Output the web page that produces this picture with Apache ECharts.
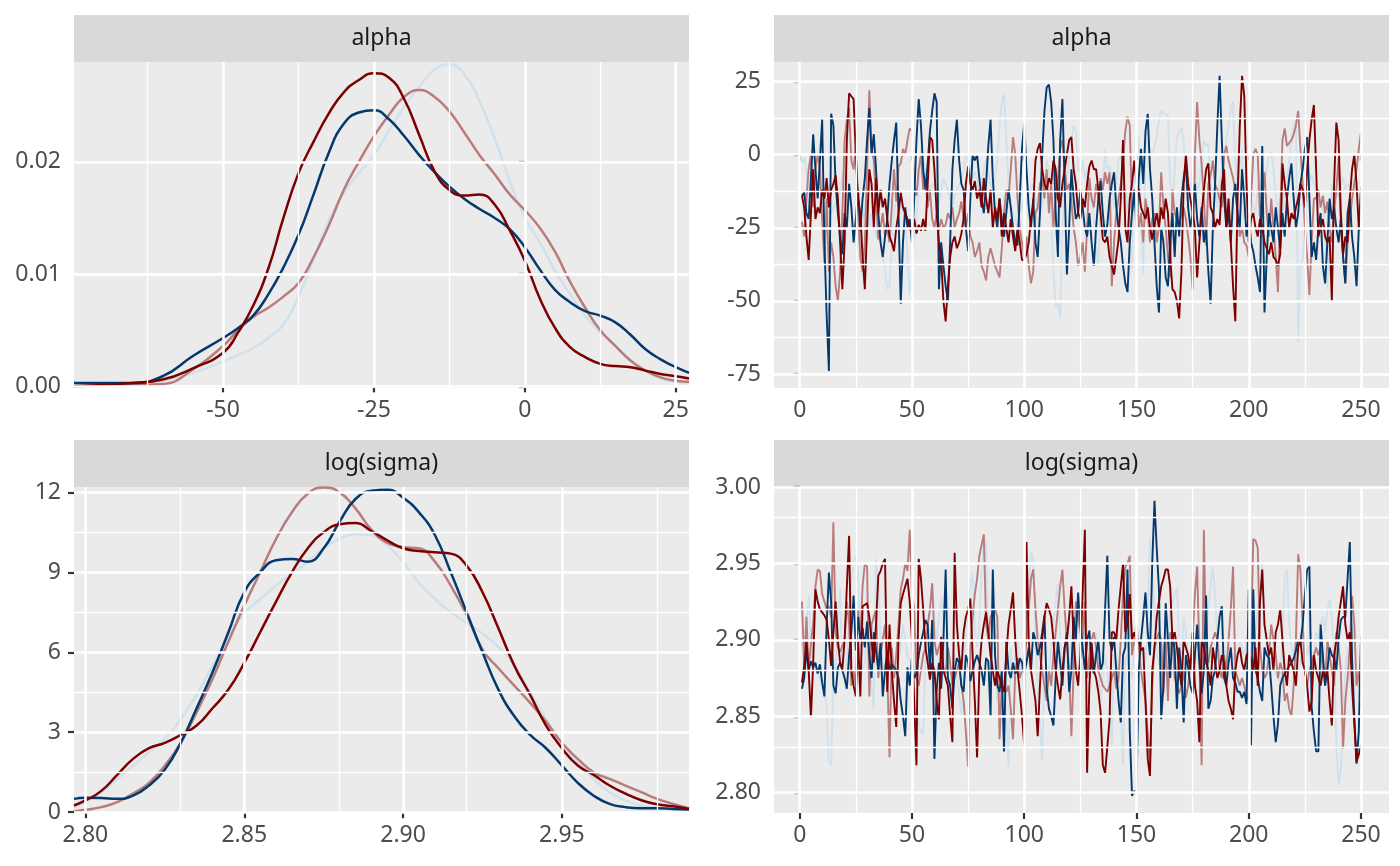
<!DOCTYPE html>
<html><head><meta charset="utf-8">
<script src="https://cdn.jsdelivr.net/npm/echarts@6/dist/echarts.min.js"></script>
<style>html,body{margin:0;padding:0;background:#fff}#c{width:1400px;height:866px}</style>
</head><body><div id="c"></div>
<script>
// ---------- data ----------
const chainColors = ['#D1E1EC', '#B97C7C', '#03396C', '#7C0000'];
const panelTitles = ['alpha', 'alpha', 'log(sigma)', 'log(sigma)'];

// density of alpha, read at these x positions
const alphaGrid = [-74.7,-65,-60,-55,-50,-47.5,-45,-42.5,-40,-37.5,-35,-32.5,-30,-27.5,-25,-22.5,-20,-17.5,-15,-12.5,-10,-7.5,-5,-2.5,0,2.5,5,7.5,10,12.5,15,17.5,20,22.5,25,27.2];
const alphaDens1 = [0.0001,0.0002,0.0005,0.0012,0.0022,0.0028,0.0034,0.0043,0.0055,0.0080,0.0113,0.0148,0.0172,0.0190,0.0206,0.0228,0.0249,0.0267,0.0282,0.0287,0.0278,0.0254,0.0221,0.0183,0.0150,0.0128,0.0103,0.0082,0.0063,0.0048,0.0036,0.0023,0.0013,0.0007,0.0004,0.0003];
const alphaDens2 = [0.0000,0.0001,0.0002,0.0015,0.0036,0.0050,0.0062,0.0070,0.0080,0.0092,0.0115,0.0143,0.0175,0.0200,0.0223,0.0242,0.0258,0.0264,0.0258,0.0245,0.0226,0.0206,0.0189,0.0171,0.0157,0.0141,0.0120,0.0093,0.0070,0.0050,0.0036,0.0023,0.0014,0.0008,0.0005,0.0004];
const alphaDens3 = [0.0003,0.0003,0.0009,0.0027,0.0043,0.0052,0.0063,0.0082,0.0106,0.0135,0.0171,0.0208,0.0234,0.0244,0.0246,0.0238,0.0223,0.0206,0.0191,0.0178,0.0167,0.0158,0.0150,0.0140,0.0124,0.0104,0.0086,0.0075,0.0067,0.0063,0.0057,0.0046,0.0033,0.0024,0.0017,0.0012];
const alphaDens4 = [0.0000,0.0003,0.0006,0.0016,0.0030,0.0048,0.0072,0.0105,0.0150,0.0190,0.0218,0.0243,0.0262,0.0273,0.0279,0.0275,0.0256,0.0224,0.0192,0.0175,0.0170,0.0171,0.0162,0.0139,0.0112,0.0078,0.0052,0.0035,0.0026,0.0020,0.0018,0.0017,0.0014,0.0011,0.0009,0.0007];

// density of log(sigma)
const sigmaGrid = [2.7964,2.800,2.805,2.810,2.815,2.820,2.825,2.830,2.835,2.840,2.845,2.850,2.855,2.860,2.865,2.870,2.875,2.880,2.885,2.890,2.895,2.900,2.905,2.910,2.915,2.920,2.925,2.930,2.935,2.940,2.945,2.950,2.955,2.960,2.965,2.970,2.975,2.980,2.985,2.990];
const sigmaDens1 = [0.19,0.38,0.75,1.25,1.75,2.25,2.75,3.5,4.4,5.5,6.6,7.45,8.0,8.5,8.95,9.4,9.9,10.25,10.44,10.4,10.0,9.4,8.6,8.0,7.5,7.1,6.7,6.2,5.5,4.5,3.5,2.6,1.9,1.25,0.75,0.44,0.25,0.16,0.1,0.06];
const sigmaDens2 = [0.03,0.09,0.19,0.38,0.7,1.1,1.75,2.6,3.75,5.0,6.4,7.75,9.0,10.25,11.25,11.95,12.18,12.0,11.4,10.6,10.1,9.95,9.9,9.4,8.5,7.4,6.1,5.4,4.75,4.1,3.4,2.6,2.0,1.5,1.25,1.0,0.75,0.5,0.31,0.15];
const sigmaDens3 = [0.5,0.54,0.53,0.5,0.62,1.0,1.6,2.6,3.9,5.25,6.75,8.25,9.0,9.45,9.5,9.4,9.9,10.9,11.75,12.06,12.1,11.8,11.25,10.4,9.0,7.5,6.0,4.6,3.6,2.9,2.4,1.75,1.1,0.62,0.31,0.19,0.15,0.15,0.12,0.1];
const sigmaDens4 = [0.25,0.44,0.8,1.4,2.0,2.4,2.6,2.9,3.25,3.9,4.6,5.6,6.75,7.9,9.0,9.9,10.5,10.8,10.85,10.55,10.2,9.9,9.8,9.75,9.7,9.25,8.25,6.9,5.5,4.4,3.25,2.4,1.75,1.4,1.0,0.7,0.45,0.3,0.22,0.12];

// trace of alpha, iterations 1..250
const alphaTrace1 = [
-3,-1,-5,-17,-20,-19,-22,-20,-18,-21,
-20,-22,-19,-20,-18,-17,-15,-12,-8,-6,
-7,-12,-18,-25,-31,-30,-31,-25,-18,-15,
-25,-20,-22,-28,-25,-30,-35,-40,-46,-45,
-30,-20,-15,-14,-18,-20,-22,-35,-48,-38,
-30,-22,-10,2,-2,-6,-10,-12,-10,-11,
-13,-17,-12,-8,-10,-12,-15,-18,-14,-12,
-10,-8,-6,0,-2,-5,-8,-6,-9,-12,
-10,-5,-2,-6,-10,-12,-8,-2,10,18,
21,5,-10,-17,-20,-22,-25,-20,-18,-15,
-17,-13,-12,-10,-15,-18,-20,-17,-12,-2,
-5,-20,-40,-52,-50,-56,-25,-10,-8,-2,
5,10,8,-5,-6,-2,-8,-5,-12,-15,
-22,-30,-38,-15,-10,2,-5,-4,-10,-18,
-10,-2,0,-5,-10,-20,-30,-39,-10,0,
6,-20,-41,5,3,2,0,3,6,12,
15,14,14,13,-10,-17,-5,6,8,9,
5,-10,-17,-12,-5,-2,-13,-10,0,5,
3,4,-13,-12,-11,-18,-10,-5,-2,5,
10,16,18,-2,-13,-5,2,-22,-12,-9,
-15,-18,-20,-12,-8,-5,-10,-5,0,1,
-5,-13,-22,-15,-20,-12,-8,-2,5,10,
12,-64,-37,-36,-25,-15,-10,-7,-10,-12,
-16,-18,-15,-30,-46,-25,-10,-15,-12,-15,
-10,-8,-12,-10,-11,-8,-12,-10,-9,-10];
const alphaTrace2 = [
-23,-28,-15,-5,0,-18,-5,0,-5,-22,
-37,-15,-40,-30,-35,-45,-50,-40,-20,5,
12,16,-2,-5,3,-20,-35,-40,-30,-5,
22,2,-2,-15,-29,-25,-20,-28,-25,-30,
-18,-5,-16,-4,-3,2,0,5,9,8,
-10,-14,-5,0,-12,-8,-18,-12,-22,-25,
-20,-26,-22,-25,-24,-20,-22,-18,-25,-22,
-20,-16,-22,-25,-20,-28,-30,-35,-33,-30,
-38,-40,-43,-35,-32,-35,-38,-40,-42,-32,
-20,-12,-15,-5,6,0,-15,-25,-30,-35,
-28,-38,-44,-40,-20,-18,-10,-8,-15,-5,
-20,-10,-25,-15,-8,2,5,-5,-12,-10,
-16,-25,-30,-38,-35,-30,-40,-25,-8,-15,
-18,-10,-15,-8,-12,-6,-10,-6,-45,-30,
-20,-15,-10,-2,8,13,10,-20,-15,-13,
-25,-20,-30,-15,-20,-30,-22,-20,-30,-25,
-6,-18,-25,-35,-42,-12,-20,-22,-24,-20,
-18,-22,-28,-35,-46,0,18,5,-3,-15,
-31,-10,-7,-2,-10,-12,-15,-18,0,3,
-2,-5,-8,-12,-20,-28,-25,-30,-31,-35,
-15,0,2,0,-22,-15,-6,-20,-28,-15,
-25,-35,-47,-20,5,9,3,4,5,7,
10,15,2,-10,-25,-35,-48,-30,-15,-15,
-12,-18,-14,-20,-16,-25,-30,-20,-12,-1,
-25,-35,-44,-30,-23,-15,-10,-5,2,8];
const alphaTrace3 = [
-14,-13,-20,-22,-8,7,-5,-15,-2,12,
-30,-55,-74,14,10,-10,-20,-28,-34,-20,
-25,-10,-18,-30,-22,-12,-26,-15,-8,5,
16,0,7,-5,-20,-30,-35,-28,-22,-10,
-2,5,11,-20,-51,-30,-18,-25,-22,-30,
-15,5,19,10,-5,-12,-3,8,15,21,
18,-46,-30,-38,-45,-50,-30,-5,5,12,
-2,-10,-12,-25,-33,-15,0,-2,0,-8,
-15,-20,-10,3,12,-8,-20,-25,-15,-22,
-28,-20,-12,-18,-25,-30,-31,-15,2,11,
-5,-18,-25,-15,-30,-35,-20,0,15,23,
24,18,5,-20,-35,5,19,-10,-41,-25,
-5,-15,-22,-20,-12,-18,-25,-28,-20,-30,
-38,-25,-15,-9,-20,-28,-24,-15,-10,-6,
-18,-25,-30,-38,-44,-47,-30,-20,-12,-25,
-8,2,-10,8,14,-5,-15,-30,-45,-54,
-25,-30,-42,-45,-30,-20,-35,-18,-28,-15,
-8,-3,-18,-25,-20,-10,-22,-28,-18,-30,
-25,-40,-51,-25,-10,10,27,5,-15,-25,
-20,-30,-15,-10,-20,-25,-5,-15,-28,-20,
-30,-33,-38,-42,-47,3,-54,-35,-20,-25,
-30,-18,-25,-32,-20,-28,-15,-8,-3,-15,
-25,-20,-10,-5,2,6,-15,-35,-30,-36,
-25,-20,-38,-44,-30,-15,-22,-18,-25,-30,
-22,-35,-44,-20,-15,-28,-35,-45,-25,-11];
const alphaTrace4 = [
-14,-18,-28,-36,-20,-5,-22,-18,-20,-12,
-15,-8,-18,-12,-10,-7,-15,-30,-46,-30,
5,21,20,19,0,-15,-20,-35,-46,-25,
-5,-10,-25,-8,-20,-12,-18,-15,-22,-28,
-30,-33,-25,-20,-13,-18,-20,-22,-25,-27,
-22,-27,-24,-26,-22,-26,-10,6,5,-5,
-20,-30,-36,-50,-57,-45,-35,-30,-28,-32,
-30,-27,-22,-10,-4,-10,-12,-9,-15,-12,
-18,-8,-15,-20,-12,-25,-18,-22,-15,-28,
-20,-25,-30,-22,-28,-33,-25,-30,-36,-36,
-34,-30,-22,-17,-2,2,4,-5,-10,-12,
-8,-10,-2,-5,-15,-18,-10,-5,0,5,
6,-5,-10,-20,-22,-15,-18,-10,-4,-2,
-5,-5,-12,-20,-29,-30,-28,-35,-38,-41,
-35,-29,-15,5,-25,-30,-15,-10,-2,-10,
-12,-18,-20,-22,-18,-25,-29,-24,-20,-25,
-18,-22,-15,-20,-35,-46,-47,-50,-56,-40,
-10,0,-10,-15,-20,-25,-42,-30,-20,-12,
-5,-3,-18,-20,-25,-22,-24,-10,-5,-25,
-15,-30,-45,-57,-15,10,27,20,-10,-30,
-22,-20,-25,-28,-22,-25,-30,-32,-34,-30,
-35,-36,-38,-34,-3,-10,-15,-25,-20,-22,
-18,-15,-10,-12,-18,-5,5,12,17,-5,
-28,-25,-22,-28,-30,-28,-50,-10,11,5,
-20,-34,-28,-30,-15,-5,0,-10,-25,-26];

// trace of log(sigma), iterations 1..250
const sigmaTrace1 = [
2.896,2.900,2.910,2.929,2.898,2.885,2.880,2.878,2.875,2.870,
2.866,2.855,2.820,2.818,2.875,2.885,2.910,2.933,2.880,2.875,
2.890,2.915,2.940,2.950,2.955,2.945,2.890,2.880,2.885,2.910,
2.895,2.870,2.855,2.953,2.940,2.900,2.880,2.885,2.888,2.883,
2.880,2.875,2.878,2.885,2.895,2.910,2.900,2.890,2.886,2.884,
2.870,2.860,2.845,2.840,2.838,2.890,2.905,2.920,2.937,2.910,
2.900,2.915,2.928,2.915,2.875,2.895,2.880,2.870,2.890,2.875,
2.865,2.850,2.875,2.905,2.920,2.935,2.944,2.905,2.895,2.910,
2.945,2.965,2.964,2.910,2.890,2.880,2.885,2.860,2.870,2.866,
2.870,2.850,2.817,2.895,2.875,2.890,2.900,2.885,2.880,2.860,
2.900,2.935,2.957,2.953,2.900,2.870,2.845,2.821,2.880,2.875,
2.880,2.895,2.910,2.925,2.937,2.900,2.880,2.885,2.900,2.915,
2.880,2.905,2.920,2.931,2.890,2.880,2.905,2.895,2.893,2.888,
2.880,2.905,2.880,2.860,2.880,2.890,2.880,2.860,2.831,2.890,
2.885,2.880,2.850,2.818,2.890,2.885,2.880,2.875,2.900,2.905,
2.880,2.895,2.893,2.885,2.920,2.966,2.945,2.920,2.890,2.885,
2.880,2.895,2.900,2.905,2.920,2.925,2.930,2.934,2.900,2.890,
2.915,2.905,2.890,2.880,2.878,2.885,2.890,2.893,2.895,2.900,
2.905,2.920,2.935,2.948,2.930,2.900,2.895,2.888,2.880,2.870,
2.893,2.888,2.890,2.885,2.893,2.900,2.895,2.890,2.898,2.905,
2.900,2.895,2.905,2.920,2.935,2.950,2.910,2.895,2.890,2.885,
2.880,2.878,2.875,2.870,2.905,2.940,2.946,2.910,2.895,2.890,
2.900,2.880,2.885,2.900,2.905,2.890,2.895,2.885,2.880,2.905,
2.900,2.910,2.915,2.905,2.920,2.926,2.915,2.890,2.831,2.805,
2.815,2.850,2.880,2.895,2.875,2.860,2.870,2.880,2.865,2.857];
const sigmaTrace2 = [
2.925,2.883,2.915,2.880,2.898,2.910,2.935,2.946,2.945,2.930,
2.925,2.920,2.922,2.915,2.977,2.905,2.895,2.892,2.896,2.900,
2.925,2.910,2.870,2.880,2.870,2.920,2.900,2.935,2.950,2.948,
2.863,2.910,2.915,2.920,2.875,2.890,2.900,2.910,2.880,2.823,
2.895,2.875,2.890,2.910,2.933,2.940,2.950,2.945,2.972,2.930,
2.920,2.875,2.870,2.880,2.890,2.895,2.910,2.920,2.937,2.900,
2.890,2.895,2.900,2.880,2.878,2.895,2.885,2.870,2.875,2.880,
2.885,2.870,2.860,2.840,2.817,2.895,2.915,2.930,2.940,2.955,
2.962,2.969,2.910,2.900,2.915,2.918,2.920,2.915,2.835,2.870,
2.868,2.866,2.870,2.855,2.835,2.880,2.888,2.875,2.880,2.890,
2.900,2.920,2.940,2.946,2.920,2.900,2.890,2.880,2.870,2.860,
2.880,2.870,2.890,2.905,2.920,2.935,2.946,2.920,2.900,2.880,
2.837,2.880,2.925,2.915,2.905,2.900,2.925,2.875,2.890,2.900,
2.905,2.895,2.880,2.875,2.870,2.868,2.866,2.870,2.875,2.880,
2.868,2.875,2.900,2.930,2.948,2.950,2.955,2.890,2.900,2.910,
2.895,2.880,2.870,2.860,2.840,2.818,2.870,2.895,2.900,2.905,
2.900,2.865,2.900,2.860,2.905,2.900,2.875,2.870,2.865,2.870,
2.880,2.862,2.870,2.885,2.900,2.930,2.948,2.890,2.818,2.972,
2.890,2.885,2.895,2.900,2.905,2.900,2.880,2.875,2.890,2.880,
2.900,2.920,2.948,2.880,2.875,2.870,2.875,2.870,2.863,2.860,
2.900,2.966,2.965,2.960,2.895,2.880,2.875,2.878,2.890,2.910,
2.900,2.890,2.875,2.885,2.880,2.860,2.865,2.855,2.850,2.870,
2.900,2.956,2.945,2.910,2.880,2.870,2.880,2.885,2.890,2.895,
2.890,2.895,2.880,2.870,2.900,2.890,2.880,2.870,2.905,2.895,
2.880,2.829,2.860,2.875,2.895,2.929,2.910,2.870,2.880,2.855];
const sigmaTrace3 = [
2.868,2.875,2.893,2.880,2.886,2.882,2.885,2.878,2.884,2.872,
2.863,2.910,2.944,2.925,2.870,2.865,2.882,2.885,2.880,2.875,
2.868,2.890,2.905,2.929,2.893,2.915,2.900,2.908,2.895,2.912,
2.890,2.875,2.905,2.893,2.880,2.898,2.863,2.880,2.893,2.880,
2.884,2.882,2.880,2.875,2.860,2.850,2.837,2.882,2.870,2.888,
2.875,2.878,2.890,2.898,2.905,2.913,2.910,2.880,2.913,2.822,
2.867,2.885,2.868,2.900,2.946,2.875,2.870,2.855,2.880,2.888,
2.885,2.870,2.866,2.890,2.885,2.873,2.880,2.886,2.890,2.885,
2.880,2.870,2.888,2.886,2.850,2.946,2.890,2.870,2.866,2.880,
2.827,2.900,2.880,2.875,2.885,2.878,2.880,2.888,2.885,2.878,
2.885,2.895,2.880,2.905,2.900,2.890,2.895,2.905,2.916,2.868,
2.855,2.850,2.844,2.875,2.900,2.885,2.870,2.895,2.905,2.866,
2.880,2.915,2.900,2.931,2.910,2.895,2.880,2.900,2.906,2.883,
2.878,2.890,2.900,2.880,2.885,2.920,2.955,2.900,2.893,2.902,
2.880,2.860,2.846,2.890,2.895,2.946,2.840,2.798,2.801,2.801,
2.880,2.900,2.915,2.931,2.905,2.890,2.950,2.991,2.960,2.933,
2.848,2.870,2.924,2.900,2.875,2.905,2.893,2.855,2.895,2.880,
2.846,2.890,2.882,2.870,2.865,2.890,2.910,2.885,2.865,2.880,
2.929,2.855,2.860,2.875,2.880,2.900,2.915,2.922,2.875,2.870,
2.885,2.895,2.875,2.872,2.866,2.866,2.862,2.866,2.858,2.933,
2.831,2.933,2.880,2.875,2.866,2.860,2.895,2.890,2.888,2.870,
2.850,2.833,2.845,2.870,2.875,2.878,2.880,2.883,2.885,2.888,
2.893,2.900,2.898,2.910,2.930,2.946,2.948,2.856,2.840,2.827,
2.827,2.910,2.890,2.870,2.880,2.895,2.890,2.888,2.880,2.900,
2.913,2.915,2.915,2.940,2.964,2.888,2.850,2.819,2.840,2.903];
const sigmaTrace4 = [
2.872,2.883,2.900,2.880,2.849,2.885,2.933,2.925,2.920,2.918,
2.916,2.913,2.900,2.883,2.905,2.925,2.900,2.885,2.881,2.900,
2.935,2.968,2.880,2.870,2.863,2.900,2.863,2.922,2.923,2.924,
2.915,2.900,2.885,2.910,2.942,2.945,2.950,2.953,2.866,2.910,
2.880,2.860,2.843,2.900,2.924,2.930,2.935,2.940,2.925,2.900,
2.860,2.818,2.953,2.940,2.920,2.895,2.885,2.874,2.885,2.880,
2.860,2.848,2.902,2.880,2.875,2.870,2.850,2.833,2.957,2.910,
2.890,2.880,2.905,2.915,2.920,2.927,2.890,2.860,2.823,2.880,
2.900,2.910,2.918,2.905,2.890,2.880,2.870,2.880,2.875,2.870,
2.866,2.890,2.910,2.920,2.931,2.900,2.880,2.866,2.850,2.831,
2.964,2.900,2.880,2.870,2.860,2.837,2.870,2.900,2.915,2.924,
2.920,2.915,2.900,2.880,2.870,2.861,2.880,2.895,2.900,2.915,
2.935,2.900,2.880,2.870,2.890,2.930,2.972,2.813,2.870,2.898,
2.880,2.875,2.866,2.853,2.818,2.813,2.830,2.848,2.905,2.905,
2.900,2.920,2.935,2.950,2.905,2.910,2.930,2.900,2.905,2.900,
2.900,2.893,2.895,2.860,2.822,2.811,2.880,2.895,2.915,2.925,
2.935,2.940,2.946,2.946,2.935,2.900,2.905,2.895,2.880,2.870,
2.900,2.895,2.890,2.880,2.905,2.870,2.860,2.833,2.900,2.895,
2.885,2.880,2.870,2.895,2.885,2.875,2.880,2.890,2.885,2.870,
2.860,2.855,2.848,2.880,2.890,2.895,2.885,2.880,2.890,2.892,
2.887,2.880,2.895,2.870,2.925,2.946,2.910,2.900,2.890,2.895,
2.880,2.905,2.910,2.920,2.900,2.880,2.870,2.890,2.885,2.880,
2.870,2.895,2.900,2.885,2.880,2.870,2.853,2.860,2.890,2.880,
2.875,2.870,2.880,2.875,2.880,2.860,2.844,2.890,2.900,2.915,
2.925,2.935,2.910,2.900,2.905,2.870,2.845,2.820,2.825,2.831];

// tick labels
const densAlphaXTicks = [-50, -25, 0, 25];
const densAlphaYTicks = [0, 0.01, 0.02];
const traceXTicks = [0, 50, 100, 150, 200, 250];
const traceAlphaYTicks = [-75, -50, -25, 0, 25];
const densSigmaXTicks = [2.80, 2.85, 2.90, 2.95];
const densSigmaYTicks = [0, 3, 6, 9, 12];
const traceSigmaYTicks = [2.80, 2.85, 2.90, 2.95, 3.00];
// minor grid positions
const densAlphaXMinor = [-62.5, -37.5, -12.5, 12.5];
const densAlphaYMinor = [0.005, 0.015, 0.025];
const traceXMinor = [25, 75, 125, 175, 225];
const traceAlphaYMinor = [-62.5, -37.5, -12.5, 12.5];
const densSigmaXMinor = [2.825, 2.875, 2.925, 2.975];
const densSigmaYMinor = [1.5, 4.5, 7.5, 10.5];
const traceSigmaYMinor = [2.825, 2.875, 2.925, 2.975];

// ---------- layout ----------
const FONT = 'Noto Sans';
const PW = 615, PH = 326;
const panelPos = [[74, 62], [774, 62], [74, 487], [774, 487]];
const ranges = [
  {x: [-74.7, 27.2], y: [-0.00015, 0.0289]},
  {x: [-11.45, 262.45], y: [-79.8, 31.7]},
  {x: [2.7964, 2.990], y: [-0.03, 12.2]},
  {x: [-11.45, 262.45], y: [2.7867, 3.0]}
];
const fmtX = [v => String(v), v => String(v), v => v.toFixed(2), v => String(v)];
const fmtY = [v => v.toFixed(2), v => String(v), v => String(v), v => v.toFixed(2)];
const xTicks = [densAlphaXTicks, traceXTicks, densSigmaXTicks, traceXTicks];
const yTicks = [densAlphaYTicks, traceAlphaYTicks, densSigmaYTicks, traceSigmaYTicks];
const xMinor = [densAlphaXMinor, traceXMinor, densSigmaXMinor, traceXMinor];
const yMinor = [densAlphaYMinor, traceAlphaYMinor, densSigmaYMinor, traceSigmaYMinor];

const grid = [], xAxis = [], yAxis = [], series = [], graphic = [];
for (let i = 0; i < 4; i++) {
  const [l, t] = panelPos[i];
  grid.push({left: l, top: t, width: PW, height: PH, show: true, backgroundColor: '#EBEBEB', borderWidth: 0, outerBoundsMode: 'none'});
  const tickStyle = {show: true, length: 6, lineStyle: {color: '#333333', width: 2.2}};
  xAxis.push({
    type: 'value', gridIndex: i, min: ranges[i].x[0], max: ranges[i].x[1],
    axisLine: {show: false}, splitLine: {show: false},
    axisTick: Object.assign({}, tickStyle, {customValues: xTicks[i]}),
    axisLabel: {customValues: xTicks[i], formatter: fmtX[i], color: '#4D4D4D', fontSize: 23, fontFamily: FONT, margin: 11}
  });
  yAxis.push({
    type: 'value', gridIndex: i, min: ranges[i].y[0], max: ranges[i].y[1],
    axisLine: {show: false}, splitLine: {show: false},
    axisTick: Object.assign({}, tickStyle, {customValues: yTicks[i]}),
    axisLabel: {customValues: yTicks[i], formatter: fmtY[i], color: '#4D4D4D', fontSize: 23, fontFamily: FONT, margin: 13}
  });
  // grid lines through the axis scales
  const ml = [];
  const minorStyle = {color: '#FFFFFF', width: 1.3, type: 'solid'};
  const majorStyle = {color: '#FFFFFF', width: 2.6, type: 'solid'};
  xMinor[i].forEach(v => ml.push({xAxis: v, lineStyle: minorStyle}));
  yMinor[i].forEach(v => ml.push({yAxis: v, lineStyle: minorStyle}));
  xTicks[i].forEach(v => ml.push({xAxis: v, lineStyle: majorStyle}));
  yTicks[i].forEach(v => ml.push({yAxis: v, lineStyle: majorStyle}));
  series.push({
    type: 'line', xAxisIndex: i, yAxisIndex: i, z: 1, silent: true,
    data: [[ranges[i].x[0], ranges[i].y[0]]], showSymbol: false, lineStyle: {opacity: 0},
    markLine: {silent: true, symbol: ['none', 'none'], label: {show: false}, animation: false, data: ml}
  });
  // facet strip
  graphic.push({type: 'rect', left: l, top: t - 47, shape: {width: PW, height: 47}, style: {fill: '#D9D9D9'}, silent: true});
  graphic.push({type: 'text', x: l + PW / 2, y: t - 23.5, style: {text: panelTitles[i], fill: '#1A1A1A', font: '23px "' + FONT + '"', align: 'center', verticalAlign: 'middle'}, silent: true});
}

const alphaDens = [alphaDens1, alphaDens2, alphaDens3, alphaDens4];
const sigmaDens = [sigmaDens1, sigmaDens2, sigmaDens3, sigmaDens4];
const alphaTrace = [alphaTrace1, alphaTrace2, alphaTrace3, alphaTrace4];
const sigmaTrace = [sigmaTrace1, sigmaTrace2, sigmaTrace3, sigmaTrace4];

for (let c = 0; c < 4; c++) {
  series.push({type: 'line', xAxisIndex: 0, yAxisIndex: 0, z: 2, showSymbol: false, smooth: 0.5,
    data: alphaGrid.map((x, k) => [x, alphaDens[c][k]]), lineStyle: {color: chainColors[c], width: 2.5}});
  series.push({type: 'line', xAxisIndex: 2, yAxisIndex: 2, z: 2, showSymbol: false, smooth: 0.5,
    data: sigmaGrid.map((x, k) => [x, sigmaDens[c][k]]), lineStyle: {color: chainColors[c], width: 2.5}});
  series.push({type: 'line', xAxisIndex: 1, yAxisIndex: 1, z: 2, showSymbol: false,
    data: alphaTrace[c].map((v, k) => [k + 1, v]), lineStyle: {color: chainColors[c], width: 1.9}});
  series.push({type: 'line', xAxisIndex: 3, yAxisIndex: 3, z: 2, showSymbol: false,
    data: sigmaTrace[c].map((v, k) => [k + 1, v]), lineStyle: {color: chainColors[c], width: 1.9}});
}

const chart = echarts.init(document.getElementById('c'), null, {renderer: 'canvas', width: 1400, height: 866});
chart.setOption({
  animation: false,
  backgroundColor: '#FFFFFF',
  textStyle: {fontFamily: FONT},
  grid, xAxis, yAxis, series, graphic
});
</script>
</body></html>
